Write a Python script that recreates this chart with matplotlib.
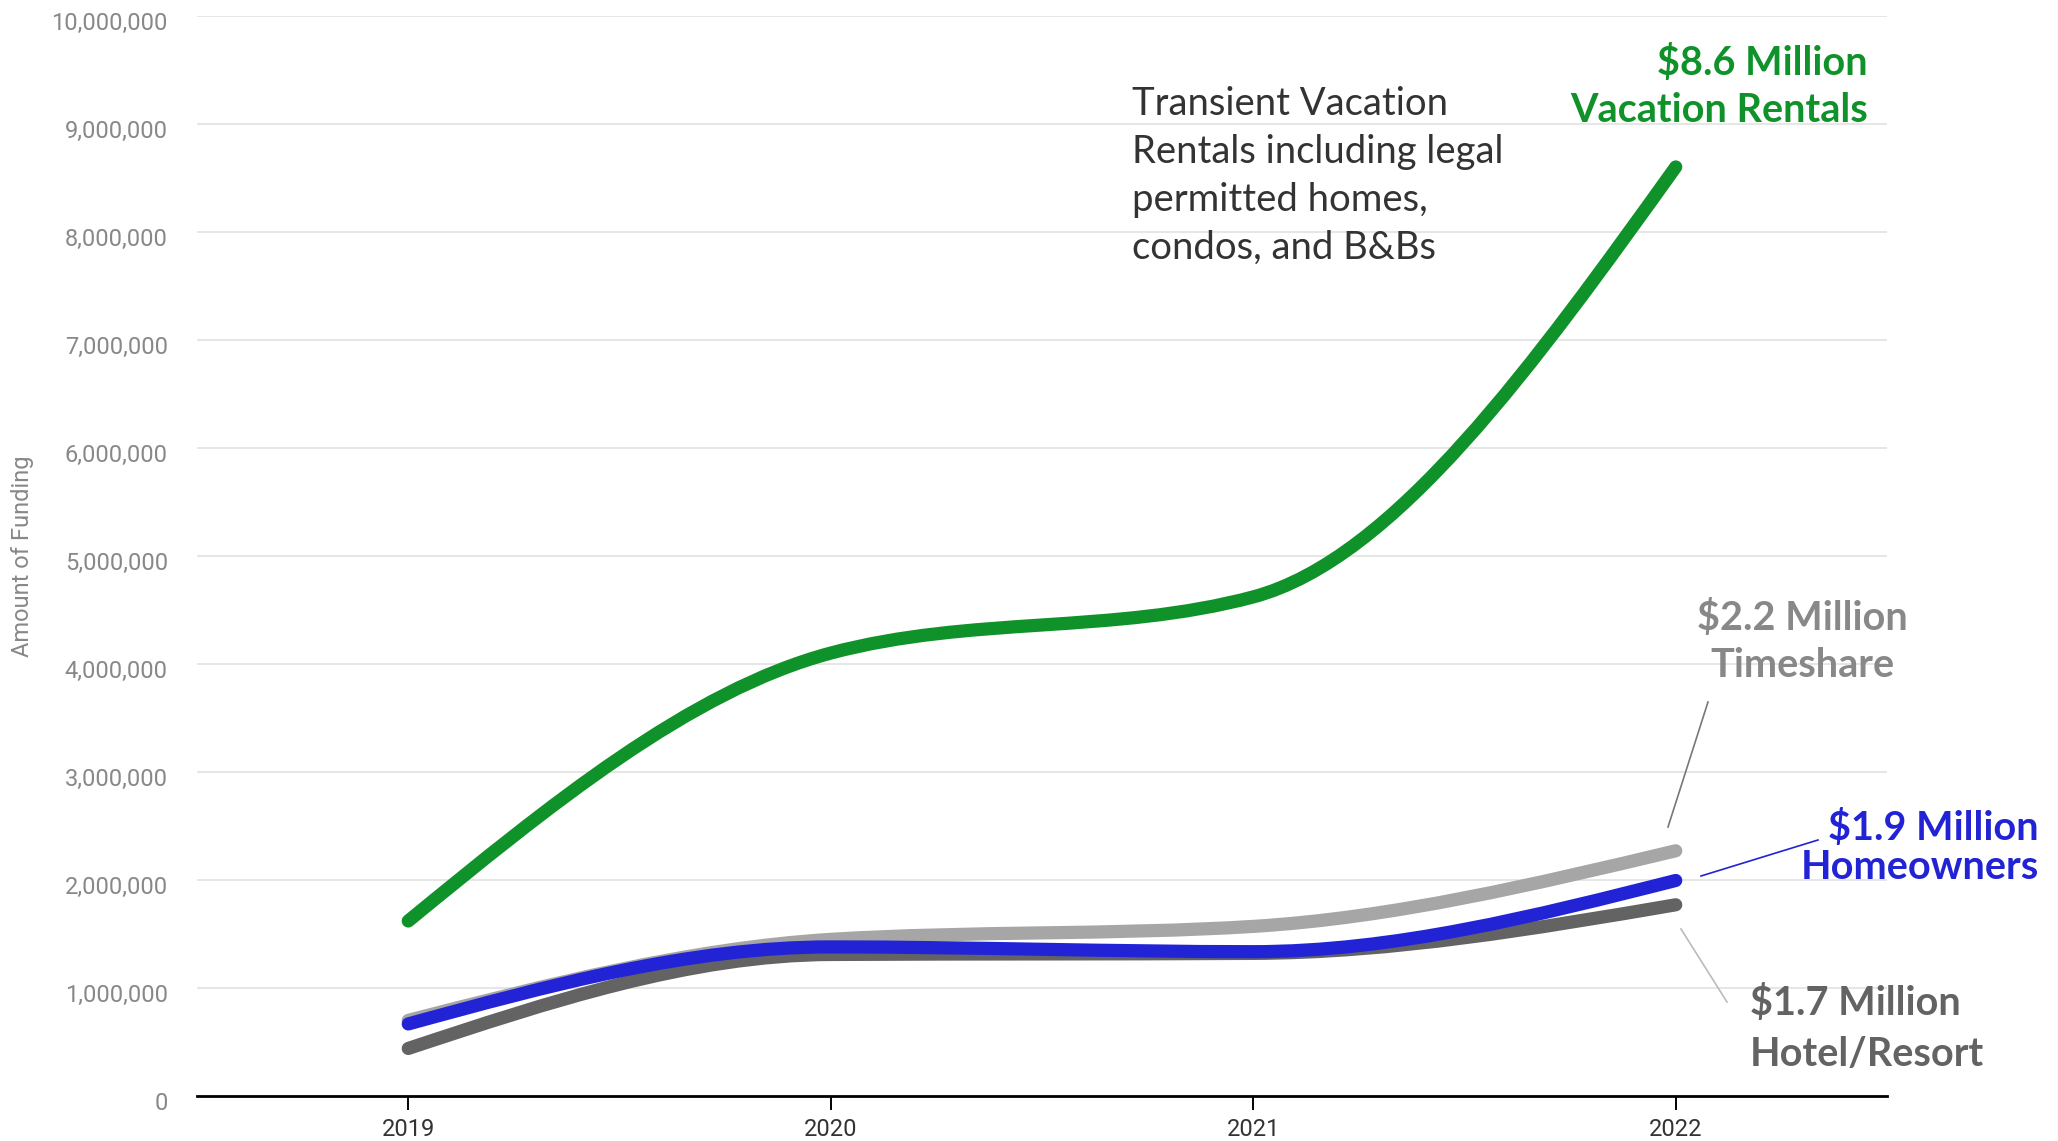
import matplotlib
matplotlib.use("Agg")
import matplotlib.pyplot as plt
import numpy as np
from matplotlib.path import Path
from matplotlib.patches import PathPatch
from matplotlib.lines import Line2D
from matplotlib.transforms import ScaledTranslation
from matplotlib.ticker import FuncFormatter, MultipleLocator

# ---------------- data ----------------
years = [2019, 2020, 2021, 2022]
vacation_rentals = [1620000, 4100000, 4620000, 8600000]
timeshare = [700000, 1450000, 1570000, 2270000]
homeowners = [667000, 1380000, 1336000, 1995000]
hotel_resort = [440000, 1310000, 1320000, 1770000]

series_names = ["Hotel/Resort", "Timeshare", "Homeowners", "Vacation Rentals"]
series_values = [hotel_resort, timeshare, homeowners, vacation_rentals]
series_colors = ["#636363", "#a6a6a6", "#2323d6", "#10922a"]

y_label = "Amount of Funding"
note_lines = ["Transient Vacation", "Rentals including legal",
              "permitted homes,", "condos, and B&Bs"]

W, H = 2058, 1141
DPI = 100


def px(x, y):
    return (x / W, 1 - y / H)


def monotone_path(xs, ys):
    """Cubic Bezier path through the points, using monotone-x tangents."""
    xs = np.asarray(xs, float)
    ys = np.asarray(ys, float)
    n = len(xs)
    h = np.diff(xs)
    s = np.diff(ys) / h
    t = np.zeros(n)
    for i in range(1, n - 1):
        p = (s[i - 1] * h[i] + s[i] * h[i - 1]) / (h[i - 1] + h[i])
        t[i] = (np.sign(s[i - 1]) + np.sign(s[i])) * min(abs(s[i - 1]), abs(s[i]), 0.5 * abs(p))
    t[0] = (3 * s[0] - t[1]) / 2
    t[-1] = (3 * s[-1] - t[-2]) / 2
    verts = [(xs[0], ys[0])]
    codes = [Path.MOVETO]
    for i in range(n - 1):
        dx = h[i] / 3
        verts += [(xs[i] + dx, ys[i] + dx * t[i]),
                  (xs[i + 1] - dx, ys[i + 1] - dx * t[i + 1]),
                  (xs[i + 1], ys[i + 1])]
        codes += [Path.CURVE4] * 3
    return Path(verts, codes)


fig = plt.figure(figsize=(W / DPI, H / DPI), dpi=DPI)
ax = fig.add_axes([197 / W, 1 - 1096 / H, (1887 - 197) / W, (1096 - 15.7) / H])

ax.set_xlim(2018.5, 2022.5)
ax.set_ylim(0, 10000000)

for vals, col in zip(series_values, series_colors):
    patch = PathPatch(monotone_path(years, vals), facecolor="none", edgecolor=col,
                      lw=9.5, capstyle="round", joinstyle="round", zorder=3)
    ax.add_patch(patch)

# axes styling
for side in ["top", "right", "left"]:
    ax.spines[side].set_visible(False)
ax.spines["bottom"].set_color("black")
ax.spines["bottom"].set_linewidth(2.0)
ax.spines["bottom"].set_zorder(4)

ax.yaxis.set_major_locator(MultipleLocator(1000000))
ax.yaxis.set_major_formatter(FuncFormatter(lambda v, p: f"{int(v):,}"))
ax.grid(axis="y", color="#e2e2e2", lw=1.2, zorder=0)
ax.set_axisbelow(True)
ax.tick_params(axis="y", length=0, pad=21, labelsize=17, labelcolor="#888888")
ax.set_xticks(years)
ax.set_xticklabels([str(y) for y in years])
ax.tick_params(axis="x", length=10, width=1.4, color="black", pad=6,
               labelsize=17, labelcolor="#333333")
for lbl in ax.get_yticklabels():
    lbl.set_fontfamily("Roboto")
    lbl.set_transform(lbl.get_transform() + ScaledTranslation(0, -5 / DPI, fig.dpi_scale_trans))
for lbl in ax.get_xticklabels():
    lbl.set_fontfamily("Roboto")

fig.text(*px(23, 556), y_label, rotation=90, ha="center", va="center",
         fontsize=17, color="#888888", family="Roboto")

# note text
note_baselines = [115, 163, 211, 259]
for line, yb in zip(note_lines, note_baselines):
    fig.text(*px(1132, yb), line, ha="left", va="baseline", fontsize=27.5,
             color="#333333", family="Lato")

# series labels
bold = dict(family="Lato", fontweight="bold", fontsize=28.5, va="baseline")
fig.text(*px(1868, 75), "$8.6 Million", ha="right", color="#10922a", **bold)
fig.text(*px(1868, 122), "Vacation Rentals", ha="right", color="#10922a", **bold)

fig.text(*px(1802, 630), "$2.2 Million", ha="center", color="#888888", **bold)
fig.text(*px(1802, 677), "Timeshare", ha="center", color="#888888", **bold)

fig.text(*px(2039, 840), "$1.9 Million", ha="right", color="#2323d6", **bold)
fig.text(*px(2039, 879), "Homeowners", ha="right", color="#2323d6", **bold)

fig.text(*px(1750, 1015), "$1.7 Million", ha="left", color="#636363", **bold)
fig.text(*px(1750, 1066), "Hotel/Resort", ha="left", color="#636363", **bold)

# connector lines
def connector(p0, p1, color, lw):
    a = px(*p0)
    b = px(*p1)
    fig.add_artist(Line2D([a[0], b[0]], [a[1], b[1]], color=color, lw=lw,
                          transform=fig.transFigure))

connector((1708, 702), (1668, 827), "#777777", 1.2)
connector((1818, 840), (1701, 876), "#2323d6", 1.2)
connector((1681, 929), (1727, 1002), "#bbbbbb", 1.2)

fig.savefig("out.png", dpi=DPI, facecolor="white")
